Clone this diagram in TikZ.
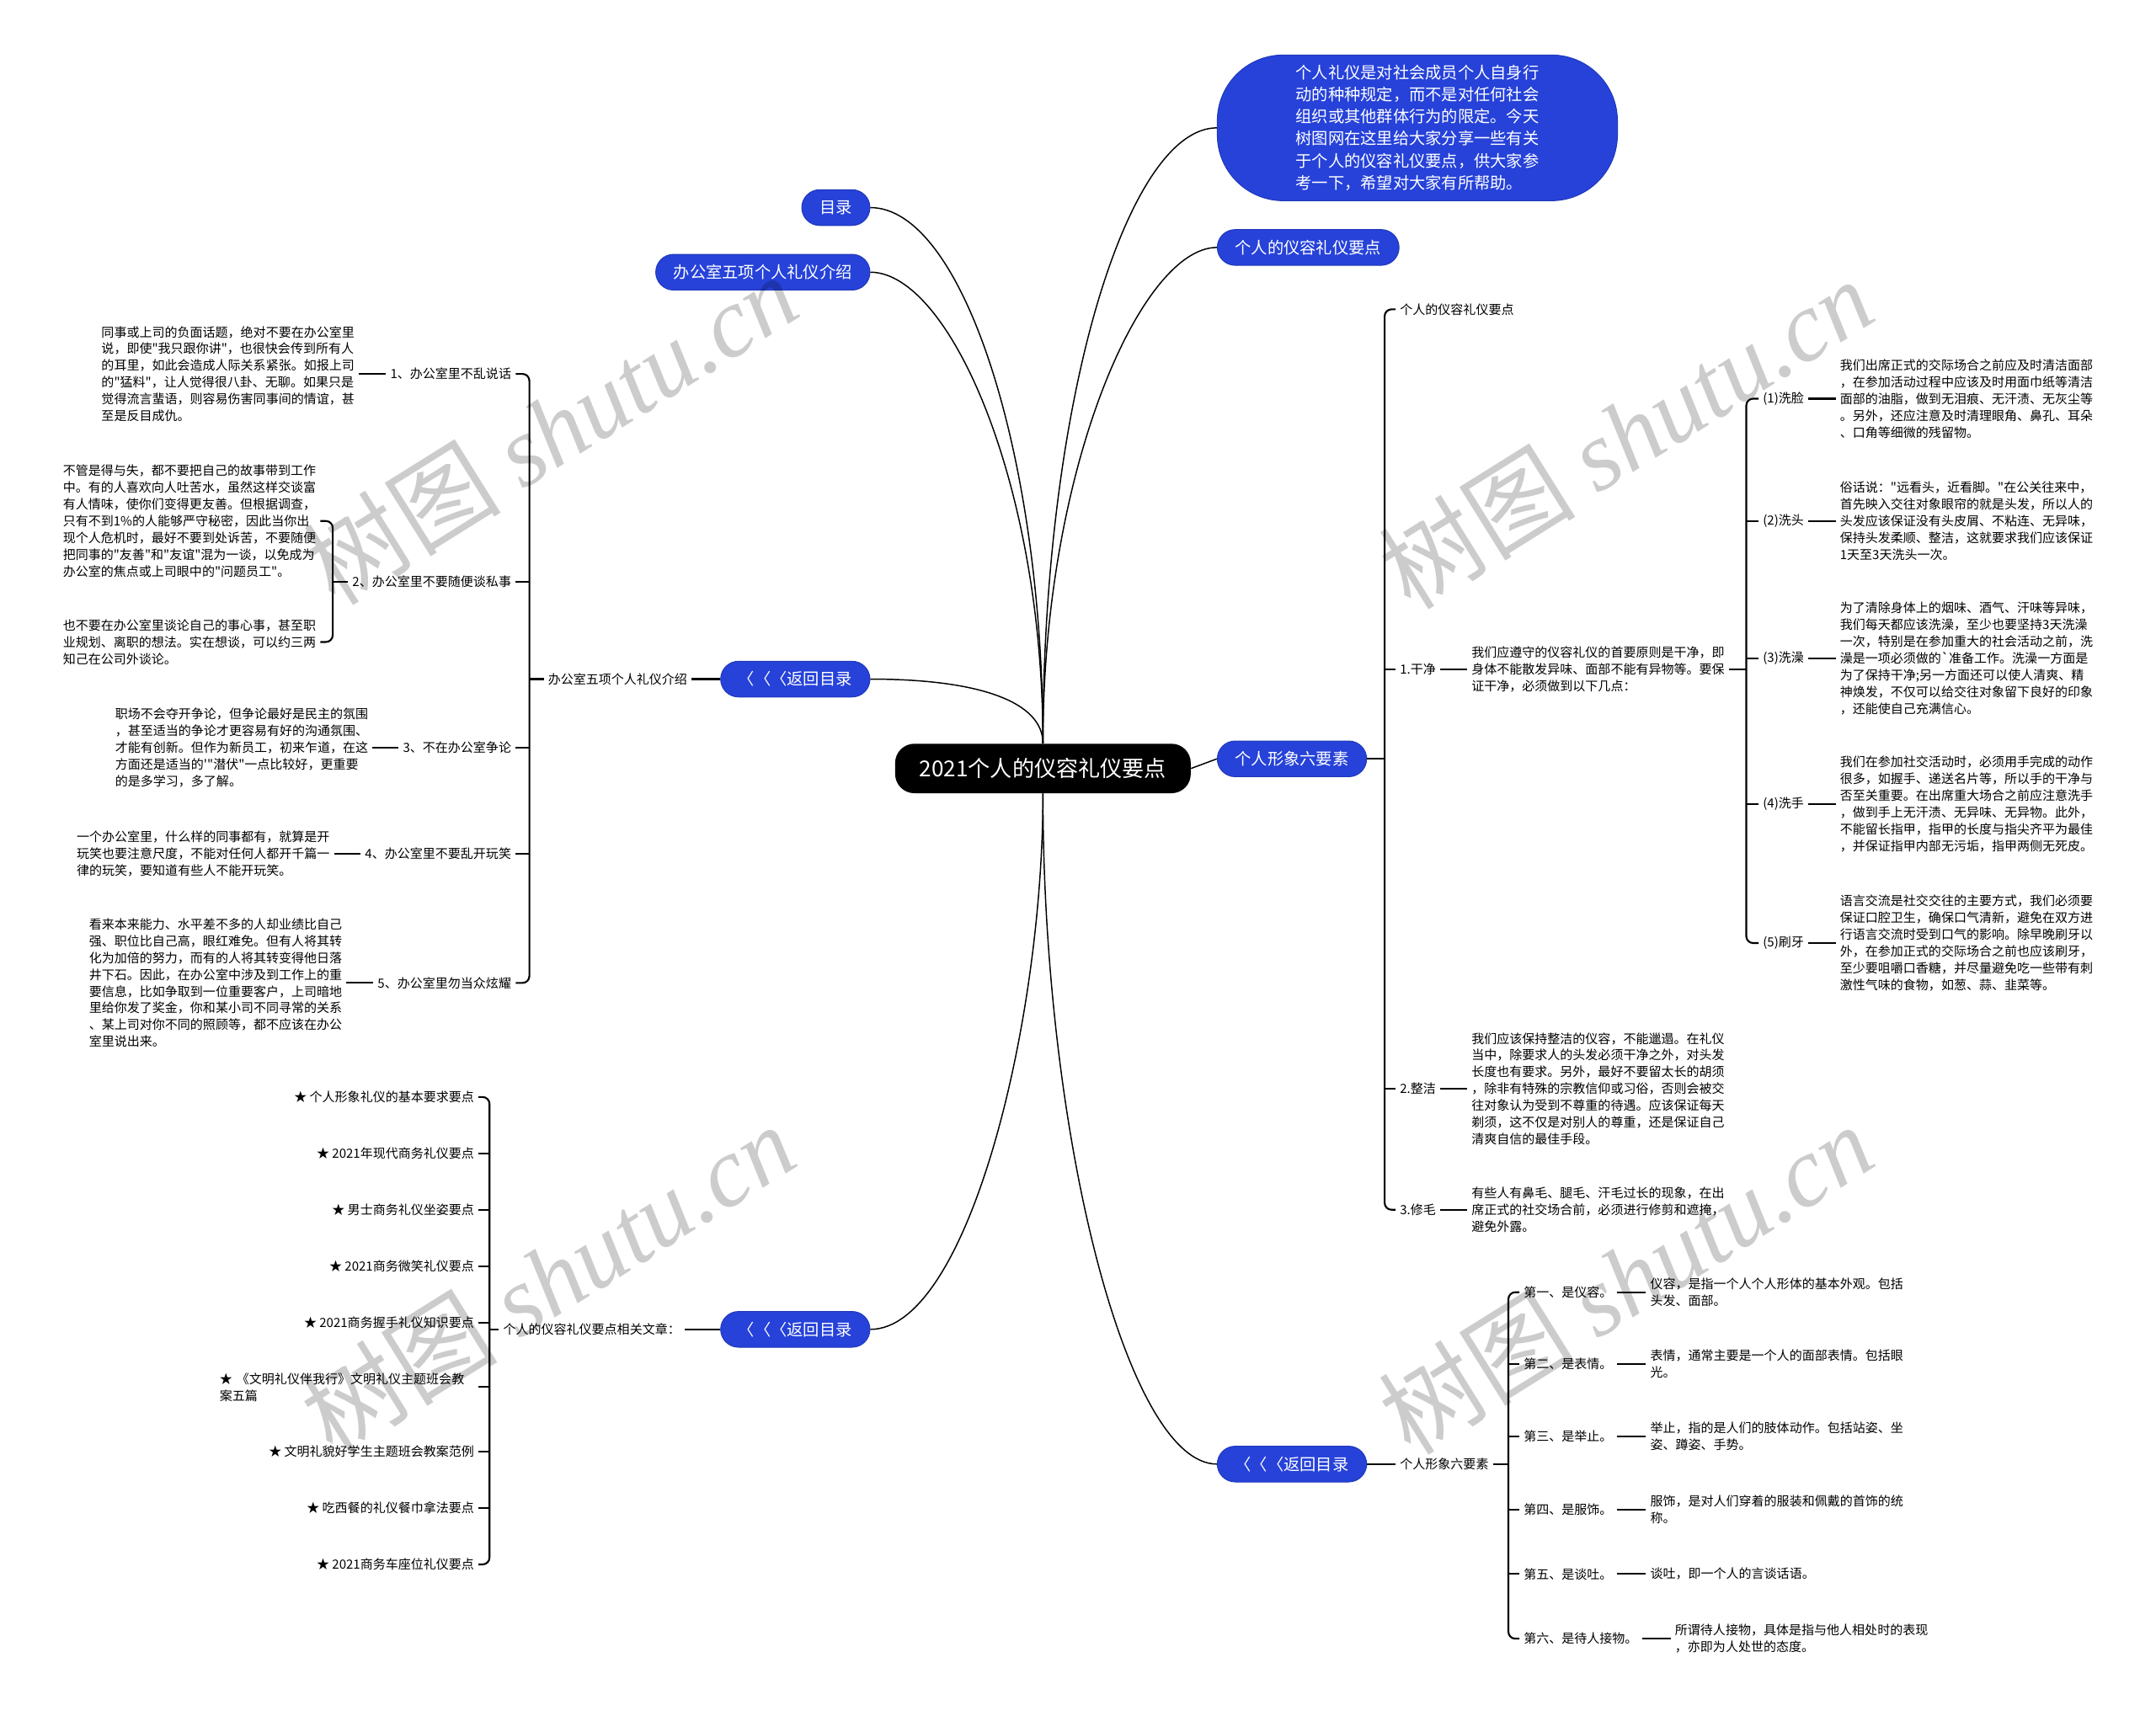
\documentclass[tikz,border=0pt]{standalone}
\usepackage{fontspec}
\newfontfamily\cjk{Noto Sans CJK SC}
\newfontfamily\wmlatin{Liberation Serif}
\definecolor{topicblue}{RGB}{38,66,217}

\begin{document}
\begin{tikzpicture}[x=1pt, y=-1pt,
  every node/.style={inner sep=3pt},
  bluenode/.style={fill=topicblue, draw=topicblue!85!black, line width=0.6pt, text=white,
    rounded corners=13pt, minimum height=26pt, inner xsep=13pt, font=\cjk\fontsize{11.8}{14}\selectfont},
  txt/.style={font=\cjk\fontsize{9.2}{12.2}\selectfont, align=left},
  crv/.style={line width=0.9pt},
  brk/.style={line width=1.3pt, rounded corners=5pt},
  wm/.style={text=black, opacity=0.2, rotate=32, font=\cjk\fontsize{72}{72}\selectfont}]

% 0. 画布范围
\useasboundingbox (0,0) rectangle (1568,1248);

% 1. 中心主题
\node[fill=black, text=white, rounded corners=14pt, minimum width=215pt, minimum height=36pt,
  font=\cjk\fontsize{16}{18}\selectfont] (root) at (758.5,559) {2021个人的仪容礼仪要点};

% 2. 一级分支 (蓝色圆角)
\node[bluenode, anchor=east] (mulu) at (633,151) {目录};
\node[bluenode, anchor=east] (bangong) at (633,198) {办公室五项个人礼仪介绍};
\node[bluenode, anchor=east] (fanhuiA) at (633,494) {〈〈〈返回目录};
\node[bluenode, anchor=east] (fanhuiB) at (633,967) {〈〈〈返回目录};
\node[bluenode, anchor=west, rounded corners=48pt, minimum width=291pt, minimum height=106pt,
  align=left, font=\cjk\fontsize{11.8}{16}\selectfont] (intro) at (885,93)
  {个人礼仪是对社会成员个人自身行\\动的种种规定，而不是对任何社会\\组织或其他群体行为的限定。今天\\树图网在这里给大家分享一些有关\\于个人的仪容礼仪要点，供大家参\\考一下，希望对大家有所帮助。};
\node[bluenode, anchor=west] (rongyi) at (885,180) {个人的仪容礼仪要点};
\node[bluenode, anchor=west] (xingxiang) at (885,552) {个人形象六要素};
\node[bluenode, anchor=west] (fanhuiC) at (885,1065) {〈〈〈返回目录};

% 中心到一级分支的曲线
\draw[crv] (mulu.east) .. controls +(67,0) and +(0,-210) .. (root.north);
\draw[crv] (bangong.east) .. controls +(57,0) and +(0,-190) .. (root.north);
\draw[crv] (fanhuiA.east) .. controls +(80,0) and +(0,-30) .. (root.north);
\draw[crv] (fanhuiB.east) .. controls +(70,0) and +(0,170) .. (root.south);
\draw[crv] (intro.west) .. controls +(-65,0) and +(0,-250) .. (root.north);
\draw[crv] (rongyi.west) .. controls +(-55,0) and +(0,-200) .. (root.north);
\draw[crv] (root.east) -- (xingxiang.west);
\draw[crv] (fanhuiC.west) .. controls +(-65,0) and +(0,250) .. (root.south);

% 3. 左上：办公室五项个人礼仪
\node[txt, anchor=east] (jieshao) at (503,494) {办公室五项个人礼仪介绍};
\draw[brk] (fanhuiA.west) -- (jieshao.east);
\coordinate (kA) at (385,494);
\draw[brk] (jieshao.west) -- (kA);
\node[txt, anchor=east] (it1) at (375,272) {1、办公室里不乱说话};
\node[txt, anchor=east] (it2) at (375,423) {2、办公室里不要随便谈私事};
\node[txt, anchor=east] (it3) at (375,544) {3、不在办公室争论};
\node[txt, anchor=east] (it4) at (375,621) {4、办公室里不要乱开玩笑};
\node[txt, anchor=east] (it5) at (375,715) {5、办公室里勿当众炫耀};
\draw[brk] (it1.east) -| (kA) |- (it5.east);
\foreach \n in {it2,it3,it4} \draw[brk] (\n.east) -- (\n.east -| kA);

\node[txt, anchor=east] (p1) at (261,272) {同事或上司的负面话题，绝对不要在办公室里\\说，即使"我只跟你讲"，也很快会传到所有人\\的耳里，如此会造成人际关系紧张。如报上司\\的"猛料"，让人觉得很八卦、无聊。如果只是\\觉得流言蜚语，则容易伤害同事间的情谊，甚\\至是反目成仇。};
\draw[brk] (p1.east) -- (it1.west);

\coordinate (kB) at (242,423);
\node[txt, anchor=east] (p2a) at (233,379) {不管是得与失，都不要把自己的故事带到工作\\中。有的人喜欢向人吐苦水，虽然这样交谈富\\有人情味，使你们变得更友善。但根据调查，\\只有不到1\%的人能够严守秘密，因此当你出\\现个人危机时，最好不要到处诉苦，不要随便\\把同事的"友善"和"友谊"混为一谈，以免成为\\办公室的焦点或上司眼中的"问题员工"。};
\node[txt, anchor=east] (p2b) at (233,467) {也不要在办公室里谈论自己的事心事，甚至职\\业规划、离职的想法。实在想谈，可以约三两\\知己在公司外谈论。};
\draw[brk] (it2.west) -- (kB);
\draw[brk] (p2a.east) -| (kB) |- (p2b.east);

\node[txt, anchor=east] (p3) at (271,544) {职场不会夺开争论，但争论最好是民主的氛围\\，甚至适当的争论才更容易有好的沟通氛围、\\才能有创新。但作为新员工，初来乍道，在这\\方面还是适当的'"潜伏"一点比较好，更重要\\的是多学习，多了解。};
\draw[brk] (p3.east) -- (it3.west);
\node[txt, anchor=east] (p4) at (243,621) {一个办公室里，什么样的同事都有，就算是开\\玩笑也要注意尺度，不能对任何人都开千篇一\\律的玩笑，要知道有些人不能开玩笑。};
\draw[brk] (p4.east) -- (it4.west);
\node[txt, anchor=east] (p5) at (252,715) {看来本来能力、水平差不多的人却业绩比自己\\强、职位比自己高，眼红难免。但有人将其转\\化为加倍的努力，而有的人将其转变得他日落\\井下石。因此，在办公室中涉及到工作上的重\\要信息，比如争取到一位重要客户，上司暗地\\里给你发了奖金，你和某小司不同寻常的关系\\、某上司对你不同的照顾等，都不应该在办公\\室里说出来。};
\draw[brk] (p5.east) -- (it5.west);

% 4. 右侧：个人形象六要素
\coordinate (kC) at (1007,552);
\draw[brk] (xingxiang.east) -- (kC);
\node[txt, anchor=west] (yaodian) at (1015,225) {个人的仪容礼仪要点};
\node[txt, anchor=west] (gan) at (1015,487) {1.干净};
\node[txt, anchor=west] (zheng) at (1015,792) {2.整洁};
\node[txt, anchor=west] (xiu) at (1015,880) {3.修毛};
\draw[brk] (yaodian.west) -| (kC) |- (xiu.west);
\foreach \n in {gan,zheng} \draw[brk] (\n.west) -- (\n.west -| kC);

\node[txt, anchor=west] (ganP) at (1067,487) {我们应遵守的仪容礼仪的首要原则是干净，即\\身体不能散发异味、面部不能有异物等。要保\\证干净，必须做到以下几点：};
\draw[brk] (gan.east) -- (ganP.west);
\node[txt, anchor=west] (zhengP) at (1067,792) {我们应该保持整洁的仪容，不能邋遢。在礼仪\\当中，除要求人的头发必须干净之外，对头发\\长度也有要求。另外，最好不要留太长的胡须\\，除非有特殊的宗教信仰或习俗，否则会被交\\往对象认为受到不尊重的待遇。应该保证每天\\剃须，这不仅是对别人的尊重，还是保证自己\\清爽自信的最佳手段。};
\draw[brk] (zheng.east) -- (zhengP.west);
\node[txt, anchor=west] (xiuP) at (1067,880) {有些人有鼻毛、腿毛、汗毛过长的现象，在出\\席正式的社交场合前，必须进行修剪和遮掩，\\避免外露。};
\draw[brk] (xiu.east) -- (xiuP.west);

% 干净的五个小点
\coordinate (kD) at (1270,487);
\draw[brk] (ganP.east) -- (kD);
\node[txt, anchor=west] (x1) at (1279,290) {(1)洗脸};
\node[txt, anchor=west] (x2) at (1279,379) {(2)洗头};
\node[txt, anchor=west] (x3) at (1279,479) {(3)洗澡};
\node[txt, anchor=west] (x4) at (1279,585) {(4)洗手};
\node[txt, anchor=west] (x5) at (1279,686) {(5)刷牙};
\draw[brk] (x1.west) -| (kD) |- (x5.west);
\foreach \n in {x2,x3,x4} \draw[brk] (\n.west) -- (\n.west -| kD);

\node[txt, anchor=west] (px1) at (1335,290) {我们出席正式的交际场合之前应及时清洁面部\\，在参加活动过程中应该及时用面巾纸等清洁\\面部的油脂，做到无泪痕、无汗渍、无灰尘等\\。另外，还应注意及时清理眼角、鼻孔、耳朵\\、口角等细微的残留物。};
\node[txt, anchor=west] (px2) at (1335,379) {俗话说："远看头，近看脚。"在公关往来中，\\首先映入交往对象眼帘的就是头发，所以人的\\头发应该保证没有头皮屑、不粘连、无异味，\\保持头发柔顺、整洁，这就要求我们应该保证\\1天至3天洗头一次。};
\node[txt, anchor=west] (px3) at (1335,479) {为了清除身体上的烟味、酒气、汗味等异味，\\我们每天都应该洗澡，至少也要坚持3天洗澡\\一次，特别是在参加重大的社会活动之前，洗\\澡是一项必须做的`准备工作。洗澡一方面是\\为了保持干净;另一方面还可以使人清爽、精\\神焕发，不仅可以给交往对象留下良好的印象\\，还能使自己充满信心。};
\node[txt, anchor=west] (px4) at (1335,585) {我们在参加社交活动时，必须用手完成的动作\\很多，如握手、递送名片等，所以手的干净与\\否至关重要。在出席重大场合之前应注意洗手\\，做到手上无汗渍、无异味、无异物。此外，\\不能留长指甲，指甲的长度与指尖齐平为最佳\\，并保证指甲内部无污垢，指甲两侧无死皮。};
\node[txt, anchor=west] (px5) at (1335,686) {语言交流是社交交往的主要方式，我们必须要\\保证口腔卫生，确保口气清新，避免在双方进\\行语言交流时受到口气的影响。除早晚刷牙以\\外，在参加正式的交际场合之前也应该刷牙，\\至少要咀嚼口香糖，并尽量避免吃一些带有刺\\激性气味的食物，如葱、蒜、韭菜等。};
\foreach \n in {1,...,5} \draw[brk] (x\n.east) -- (px\n.west);

% 5. 右下：个人形象六要素
\node[txt, anchor=west] (liuyao) at (1015,1065) {个人形象六要素};
\draw[brk] (fanhuiC.east) -- (liuyao.west);
\coordinate (kE) at (1097,1065);
\draw[brk] (liuyao.east) -- (kE);
\node[txt, anchor=west] (d1) at (1105,940) {第一、是仪容。};
\node[txt, anchor=west] (d2) at (1105,992) {第二、是表情。};
\node[txt, anchor=west] (d3) at (1105,1045) {第三、是举止。};
\node[txt, anchor=west] (d4) at (1105,1098) {第四、是服饰。};
\node[txt, anchor=west] (d5) at (1105,1145) {第五、是谈吐。};
\node[txt, anchor=west] (d6) at (1105,1192) {第六、是待人接物。};
\draw[brk] (d1.west) -| (kE) |- (d6.west);
\foreach \n in {d2,d3,d4,d5} \draw[brk] (\n.west) -- (\n.west -| kE);

\node[txt, anchor=west] (dp1) at (1197,940) {仪容，是指一个人个人形体的基本外观。包括\\头发、面部。};
\node[txt, anchor=west] (dp2) at (1197,992) {表情，通常主要是一个人的面部表情。包括眼\\光。};
\node[txt, anchor=west] (dp3) at (1197,1045) {举止，指的是人们的肢体动作。包括站姿、坐\\姿、蹲姿、手势。};
\node[txt, anchor=west] (dp4) at (1197,1098) {服饰，是对人们穿着的服装和佩戴的首饰的统\\称。};
\node[txt, anchor=west] (dp5) at (1197,1145) {谈吐，即一个人的言谈话语。};
\node[txt, anchor=west] (dp6) at (1215,1192) {所谓待人接物，具体是指与他人相处时的表现\\，亦即为人处世的态度。};
\foreach \n in {1,...,6} \draw[brk] (d\n.east) -- (dp\n.west);

% 6. 左下：相关文章
\node[txt, anchor=east] (xiangguan) at (498,967) {个人的仪容礼仪要点相关文章：};
\draw[brk] (fanhuiB.west) -- (xiangguan.east);
\coordinate (kF) at (356,967);
\draw[brk] (xiangguan.west) -- (kF);
\node[txt, anchor=east] (s1) at (348,798) {★ 个人形象礼仪的基本要求要点};
\node[txt, anchor=east] (s2) at (348,839) {★ 2021年现代商务礼仪要点};
\node[txt, anchor=east] (s3) at (348,880) {★ 男士商务礼仪坐姿要点};
\node[txt, anchor=east] (s4) at (348,921) {★ 2021商务微笑礼仪要点};
\node[txt, anchor=east] (s5) at (348,962) {★ 2021商务握手礼仪知识要点};
\node[txt, anchor=east, text width=185pt] (s6) at (348,1009) {★ 《文明礼仪伴我行》文明礼仪主题班会教\\案五篇};
\node[txt, anchor=east] (s7) at (348,1056) {★ 文明礼貌好学生主题班会教案范例};
\node[txt, anchor=east] (s8) at (348,1097) {★ 吃西餐的礼仪餐巾拿法要点};
\node[txt, anchor=east] (s9) at (348,1138) {★ 2021商务车座位礼仪要点};
\draw[brk] (s1.east) -| (kF) |- (s9.east);
\foreach \n in {s2,s3,s4,s5,s6,s7,s8} \draw[brk] (\n.east) -- (\n.east -| kF);

% 7. 水印
\node[wm] (wmA) at (400,312) {树图 {\wmlatin\itshape shutu.cn}};
\node[wm] (wmB) at (1182,315) {树图 {\wmlatin\itshape shutu.cn}};
\node[wm] (wmC) at (398,930) {树图 {\wmlatin\itshape shutu.cn}};
\node[wm] (wmD) at (1182,930) {树图 {\wmlatin\itshape shutu.cn}};
\end{tikzpicture}
\end{document}
